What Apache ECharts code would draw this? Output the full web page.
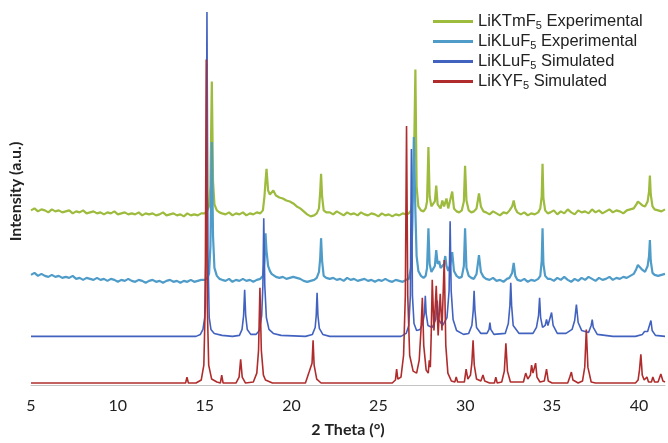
<!DOCTYPE html>
<html>
<head>
<meta charset="utf-8">
<title>XRD patterns</title>
<script src="https://cdn.jsdelivr.net/npm/echarts@6/dist/echarts.min.js"></script>
<style>
  html, body { margin: 0; padding: 0; background: #fff; }
  #main { width: 668px; height: 443px; }
</style>
</head>
<body>
<div id="main"></div>
<script>
// 2 theta sampling shared by the two measured patterns
var expTheta = [
  5,5.2,5.4,5.6,5.8,6,6.2,6.4,6.6,6.8,7,7.2,7.4,7.6,7.8,8,8.2,8.4,8.6,8.8,
  9,9.2,9.4,9.6,9.8,10,10.2,10.4,10.6,10.8,11,11.2,11.4,11.6,11.8,12,12.2,12.4,12.6,12.8,
  13,13.2,13.4,13.6,13.8,14,14.2,14.4,14.6,14.8,
  15,15.15,15.25,15.33,15.41,15.48,15.56,15.7,15.85,16,
  16.2,16.4,16.6,16.8,17,17.2,17.4,17.6,17.8,18,18.2,
  18.35,18.44,18.5,18.56,18.65,18.75,18.85,18.95,19.1,
  19.3,19.5,19.7,19.9,20.1,20.3,20.5,20.7,20.9,21.1,21.3,
  21.45,21.58,21.65,21.7,21.76,21.85,22,
  22.2,22.4,22.6,22.8,23,23.2,23.4,23.6,23.8,24,24.2,24.4,24.6,24.8,25,25.2,25.4,25.6,25.8,26,26.2,26.4,26.6,
  26.75,26.88,26.96,27.04,27.13,27.2,27.3,27.45,27.6,27.72,27.8,27.88,27.95,28.05,28.15,28.25,28.33,28.41,28.5,28.58,
  28.68,28.78,28.85,28.92,29.02,29.12,29.25,29.35,29.5,29.65,29.8,29.92,29.99,30.07,30.2,30.35,30.5,30.65,30.79,30.9,31.05,
  31.2,31.4,31.6,31.8,32,32.2,32.4,32.55,32.7,32.79,32.88,33,33.2,33.4,33.6,33.8,34,34.2,34.32,34.4,34.45,34.5,34.6,34.75,
  34.9,35.1,35.3,35.5,35.7,35.9,36.1,36.3,36.5,36.7,36.9,37.1,37.3,37.5,37.7,37.9,38.1,38.3,38.5,38.7,38.9,39.1,39.3,39.5,
  39.7,39.85,39.94,40.05,40.2,40.35,40.5,40.58,40.63,40.68,40.78,40.9,41.1,41.3,41.5
];

// LiKTmF5 experimental (offset trace, a.u.)
var tmExp = [
  176,178,175,177,176,174,177,175,176,174,175,176,173,175,174,176,173,174,175,173,
  174,172,174,173,175,172,173,174,172,173,172,174,171,173,172,173,171,172,174,171,
  172,173,171,172,170,173,171,172,171,173,
  173,176,180,200,306,205,182,176,174,173,
  172,174,171,173,172,174,171,173,172,174,173,
  176,190,205,218,196,192,194,196,191,
  189,188,186,185,183,180,178,175,172,170,171,
  173,178,195,213,190,176,174,
  174,172,175,173,171,174,172,173,171,174,172,171,173,172,170,173,171,172,170,172,171,173,172,
  173,176,185,215,318,200,180,176,175,178,185,240,190,180,178,185,201,182,180,178,
  186,180,182,188,178,180,195,178,175,174,176,185,221,186,176,174,175,178,193,180,175,
  174,172,175,173,171,174,173,176,180,186,178,174,172,174,171,173,172,174,178,190,223,188,176,173,
  174,176,172,175,173,177,174,172,176,174,175,173,177,174,176,173,175,177,174,176,175,173,176,177,
  178,182,185,183,181,180,185,195,211,192,180,177,176,175,177
];

// LiKLuF5 experimental
var luExp = [
  111,113,110,112,110,109,111,109,110,108,109,108,110,107,108,106,108,107,106,108,
  106,107,105,107,106,104,106,105,107,105,104,106,105,103,105,106,104,105,103,105,
  106,104,105,103,105,104,106,104,105,106,
  106,108,112,140,245,150,118,110,107,106,
  105,107,104,106,105,107,105,106,104,106,107,
  110,125,153,135,120,115,112,110,109,
  108,109,107,108,109,108,107,105,104,105,106,
  108,114,128,148,125,110,108,
  107,108,106,107,105,108,106,107,105,106,107,105,106,104,106,105,107,105,104,106,105,104,106,
  107,118,165,250,175,130,115,110,108,110,118,158,122,114,115,120,136,122,125,118,
  120,122,130,120,115,120,134,115,110,108,109,120,158,118,110,108,107,112,131,114,109,
  107,106,108,105,106,104,107,108,113,123,110,106,105,107,104,106,105,107,110,125,158,122,110,107,
  107,105,108,106,109,106,104,107,105,108,106,109,107,105,108,106,107,109,106,108,107,109,108,110,
  112,117,121,119,116,114,120,130,146,125,113,111,110,111,112
];

// LiKLuF5 simulated [2theta, intensity]
var luSim = [
  [5,49],[14.5,49],[14.75,51],[14.9,56],[15,68],[15.07,130],[15.13,376],[15.19,130],[15.26,68],[15.36,56],[15.55,52],[16,50],[16.6,49],
  [17,50],[17.15,56],[17.24,70],[17.3,96],[17.36,70],[17.45,56],[17.65,51],[17.95,51],
  [18.15,55],[18.28,70],[18.35,100],[18.4,168],[18.46,100],[18.55,68],[18.7,56],[18.95,52],[19.4,50],[20.8,49],
  [21.2,51],[21.36,58],[21.42,70],[21.47,93],[21.52,70],[21.6,57],[21.8,51],[22.2,49],
  [26.3,49],[26.6,52],[26.75,60],[26.84,90],[26.9,238],[26.96,90],[27.05,62],[27.2,55],[27.4,56],[27.55,62],[27.65,72],[27.7,90],[27.75,72],[27.85,60],
  [28.1,58],[28.3,66],[28.39,85],[28.46,66],[28.7,60],[28.95,68],[29.07,95],[29.13,165],[29.19,95],[29.3,66],[29.5,55],[29.9,51],
  [30.2,52],[30.38,60],[30.46,75],[30.51,95],[30.56,75],[30.65,58],[30.9,52],[31.25,52],[31.37,56],[31.42,63],[31.47,56],[31.65,51],
  [32.3,52],[32.48,62],[32.57,80],[32.62,103],[32.67,80],[32.76,60],[33.1,52],
  [33.9,52],[34.1,58],[34.22,70],[34.28,88],[34.34,68],[34.45,58],[34.6,60],[34.68,66],[34.76,60],[34.85,62],[34.97,73],[35.06,60],[35.3,52],[35.8,52],
  [36.15,56],[36.3,65],[36.4,81],[36.5,63],[36.7,55],[37.1,53],[37.25,60],[37.31,66],[37.37,58],[37.6,51],[38.5,49],
  [39.8,49],[40.2,51],[40.32,54],[40.4,56],[40.5,54],[40.6,56],[40.69,65],[40.76,55],[40.95,50],[41.5,49]
];

// LiKYF5 simulated [2theta, intensity]
var ySim = [
  [5,2],[13.9,2],[13.98,8],[14.06,2],
  [14.5,2],[14.8,5],[14.95,20],[15.03,80],[15.09,328],[15.15,80],[15.23,20],[15.4,6],[15.7,3],
  [15.9,2],[15.98,10],[16.06,2],
  [16.8,2],[16.98,8],[17.07,26],[17.16,8],[17.35,2],
  [17.8,3],[18,12],[18.1,35],[18.18,98],[18.26,35],[18.38,10],[18.5,5],[18.6,3],[18.9,2],
  [20.8,2],[21.01,13],[21.1,12],[21.18,22],[21.24,45],[21.3,20],[21.45,6],[21.7,2],
  [25.8,2],[25.98,5],[26.05,16],[26.12,6],[26.3,8],[26.45,30],[26.55,90],[26.62,261],[26.69,90],[26.8,30],[27,14],
  [27.2,12],[27.35,25],[27.45,55],[27.53,88],[27.61,40],[27.75,15],[27.87,12],[27.93,25],[27.99,18],
  [28.04,50],[28.1,106],[28.2,55],[28.33,100],[28.44,50],[28.56,92],[28.66,55],[28.79,126],[28.88,40],[29,12],[29.2,4],[29.4,3],[29.48,8],[29.56,3],
  [29.95,3],[30.05,16],[30.15,6],[30.3,10],[30.38,22],[30.45,45],[30.52,20],[30.65,6],[30.9,4],[31.02,10],[31.12,4],[31.4,2],
  [31.68,2],[31.76,8],[31.84,2],
  [32.1,3],[32.25,14],[32.34,42],[32.43,14],[32.6,3],
  [33.35,3],[33.48,12],[33.6,6],[33.75,10],[33.82,20],[33.9,12],[33.97,14],[34.05,22],[34.13,8],[34.3,3],[34.55,4],[34.68,16],[34.78,4],[35,2],
  [35.9,2],[36.02,8],[36.11,13],[36.2,5],[36.5,2],[36.75,4],[36.88,18],[36.97,56],[37.06,18],[37.25,3],[37.5,2],
  [39.8,2],[39.95,5],[40.03,15],[40.11,31],[40.19,10],[40.3,5],[40.46,8],[40.55,3],[40.72,3],[40.8,8],[40.9,3],[41.1,3],[41.26,11],[41.38,4],[41.5,3]
];

var names = ['LiKTmF5 Experimental', 'LiKLuF5 Experimental', 'LiKLuF5 Simulated', 'LiKYF5 Simulated'];
var colors = ['#9dbb3d', '#4f9cc9', '#4262c0', '#b02c2c'];

function zip(xs, ys) {
  return xs.map(function (x, i) { return [x, ys[i]]; });
}

var myChart = echarts.init(document.getElementById('main'));

var lineSeries = function (idx, data, width) {
  return {
    name: names[idx],
    type: 'line',
    data: data,
    symbol: 'none',
    smooth: false,
    lineStyle: { color: colors[idx], width: width },
    itemStyle: { color: colors[idx] },
    emphasis: { disabled: true }
  };
};

var option = {
  animation: false,
  backgroundColor: '#fff',
  grid: { left: 29, right: 1, top: 10, bottom: 55 },
  legend: {
    orient: 'vertical',
    left: 428,
    top: 8,
    icon: 'rect',
    itemWidth: 40,
    itemHeight: 3,
    itemGap: 2,
    data: names,
    formatter: function (name) {
      var i = name.indexOf('F5');
      return '{t|' + name.slice(0, i + 1) + '}{s|5}{t|' + name.slice(i + 2) + '}';
    },
    textStyle: {
      rich: {
        t: { fontFamily: 'Liberation Sans', fontSize: 16.5, color: '#222', lineHeight: 19 },
        s: { fontFamily: 'Liberation Sans', fontSize: 11, color: '#222', lineHeight: 11, verticalAlign: 'bottom' }
      }
    }
  },
  xAxis: {
    type: 'value',
    min: 5,
    max: 41.5,
    interval: 5,
    name: '2 Theta (°)',
    nameLocation: 'middle',
    nameGap: 37,
    nameTextStyle: { fontFamily: 'Lato', fontWeight: 'bold', fontSize: 16, color: '#222' },
    axisLine: { lineStyle: { color: '#c4c4c4', width: 1 } },
    axisTick: { show: false },
    splitLine: { show: false },
    axisLabel: {
      fontFamily: 'Lato', fontSize: 16, color: '#222', margin: 13,
      formatter: function (v) { return v % 5 === 0 ? String(v) : ''; }
    }
  },
  yAxis: {
    type: 'value',
    min: 0,
    max: 378,
    name: 'Intensity (a.u.)',
    nameLocation: 'middle',
    nameGap: 7,
    nameTextStyle: { fontFamily: 'Lato', fontWeight: 'bold', fontSize: 16, color: '#222', padding: [0, 0, 0, 12] },
    axisLine: { show: false },
    axisTick: { show: false },
    axisLabel: { show: false },
    splitLine: { show: false }
  },
  series: [
    lineSeries(0, zip(expTheta, tmExp), 2.2),
    lineSeries(1, zip(expTheta, luExp), 2.2),
    lineSeries(2, luSim, 1.6),
    lineSeries(3, ySim, 1.6)
  ]
};

myChart.setOption(option);
</script>
</body>
</html>
